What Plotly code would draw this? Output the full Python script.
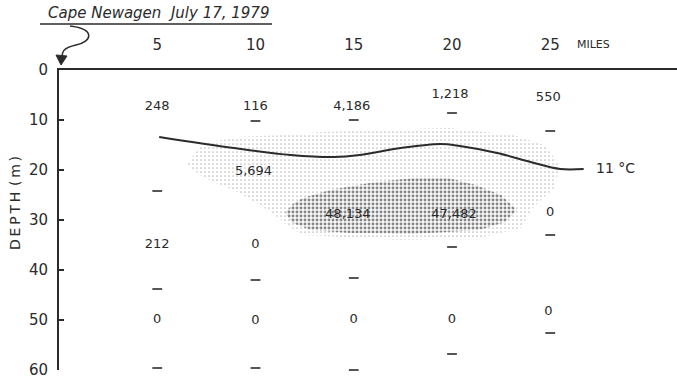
import plotly.graph_objects as go

# ---------------- data (miles from Cape Newagen, depth in m) ----------------
station_miles = [5, 10, 15, 20, 25]

label_miles = [5, 10, 14.9, 19.9, 24.9, 9.9, 14.7, 20.1, 25, 5, 10, 5, 10, 15, 20, 24.9]
label_depths = [7.4, 7.4, 7.4, 5.0, 5.6, 20.4, 29.0, 29.0, 28.6, 35.0, 35.0, 50.0, 50.2, 50.0, 50.0, 48.4]
label_texts = ["248", "116", "4,186", "1,218", "550", "5,694", "48,134", "47,482", "0",
               "212", "0", "0", "0", "0", "0", "0"]

dash_miles = [5, 5, 5, 10, 10, 10, 15, 15, 15, 20, 20, 20, 25, 25, 25]
dash_depths = [24.2, 43.8, 59.6, 10.2, 42.0, 59.6, 10.0, 41.6, 60.0, 8.6, 35.4, 56.8, 12.2, 33.0, 52.6]

iso_miles = [5.1, 8.9, 11.8, 14.0, 15.3, 17.4, 19.4, 20.4, 22.3, 24.0, 25.5, 26.7]
iso_depths = [13.4, 15.6, 17.0, 17.4, 17.0, 15.6, 14.8, 15.2, 16.6, 18.4, 19.8, 19.8]

light_miles = [6.5, 7.3, 9.2, 11.3, 13.3, 16.4, 19.8, 23.1, 24.7, 25.5, 25.2, 24.1, 23.5,
               21.4, 17.4, 12.4, 11.6, 10.8, 9.1, 7.4, 6.5]
light_depths = [19.0, 14.6, 13.4, 13.0, 12.4, 12.0, 11.6, 13.0, 15.0, 19.0, 23.6, 27.6, 31.6,
                33.6, 34.0, 33.0, 31.0, 28.4, 24.4, 21.6, 19.0]

dense_miles = [11.5, 11.9, 12.4, 13.8, 15.8, 18.0, 19.8, 21.2, 22.5, 23.3, 22.7, 21.4, 18.0,
               14.8, 12.8, 11.9, 11.5]
dense_depths = [28.6, 26.8, 25.6, 24.0, 22.6, 21.6, 21.6, 23.0, 25.0, 28.0, 30.4, 32.0, 32.8,
                32.6, 32.0, 30.6, 28.6]

x_ticks = [5, 10, 15, 20, 25]
y_ticks = [0, 10, 20, 30, 40, 50, 60]

INK = "#2b2b2b"
FONT = "DejaVu Sans"

W, H = 677, 379
ML, MR, MT, MB = 59, 0, 70, 9
PW, PH = W - ML - MR, H - MT - MB


def px(x, y):
    """pixel -> paper coordinates for decorative shapes"""
    return (x - ML) / PW, (H - MB - y) / PH


fig = go.Figure()

fig.add_trace(go.Scatter(
    x=light_miles, y=light_depths, mode="lines", fill="toself",
    line=dict(width=0, color="rgba(0,0,0,0)"), fillcolor="rgba(0,0,0,0)",
    fillpattern=dict(shape=".", size=4, solidity=0.14, fgcolor="#777777", bgcolor="white"),
    hoverinfo="skip", showlegend=False))

fig.add_trace(go.Scatter(
    x=dense_miles, y=dense_depths, mode="lines", fill="toself",
    line=dict(width=0, color="rgba(0,0,0,0)"), fillcolor="rgba(0,0,0,0)",
    fillpattern=dict(shape=".", size=4, solidity=0.42, fgcolor="#111111", bgcolor="#fafafa"),
    hoverinfo="skip", showlegend=False))

fig.add_trace(go.Scatter(
    x=iso_miles, y=iso_depths, mode="lines", line=dict(color=INK, width=2, shape="spline"),
    hoverinfo="skip", showlegend=False))

fig.add_trace(go.Scatter(
    x=dash_miles, y=dash_depths, mode="markers", cliponaxis=False,
    marker=dict(symbol="line-ew", size=7, line=dict(width=1.6, color=INK)),
    hoverinfo="skip", showlegend=False))

fig.add_trace(go.Scatter(
    x=label_miles, y=label_depths, mode="text", text=label_texts,
    textfont=dict(family=FONT, size=13, color=INK), textposition="middle center",
    hoverinfo="skip", showlegend=False))

# isotherm label
fig.add_annotation(x=iso_miles[-1], y=iso_depths[-1], xref="x", yref="y", text="11 °C",
                   showarrow=False, xanchor="left", yanchor="middle", xshift=10, yshift=1,
                   font=dict(family=FONT, size=14, color=INK))

# MILES label after 25
ux, uy = px(593, 44)
fig.add_annotation(x=ux, y=uy, xref="paper", yref="paper", text="MILES", showarrow=False,
                   xanchor="center", yanchor="middle",
                   font=dict(family=FONT, size=11, color=INK))

# title
tx, ty = px(158, 13)
fig.add_annotation(x=tx, y=ty, xref="paper", yref="paper",
                   text="<i>Cape Newagen  July 17, 1979</i>", showarrow=False,
                   xanchor="center", yanchor="middle",
                   font=dict(family=FONT, size=15, color=INK))
x0, y0 = px(40, 24)
x1, _ = px(272, 24)
fig.add_shape(type="line", xref="paper", yref="paper", x0=x0, y0=y0, x1=x1, y1=y0,
              line=dict(color=INK, width=1.5))


def path(points, cmds):
    out = []
    i = 0
    for c in cmds:
        if c in "ML":
            a, b = px(*points[i]); out.append(f"{c} {a:.5f},{b:.5f}"); i += 1
        elif c == "C":
            seg = []
            for _ in range(3):
                a, b = px(*points[i]); seg.append(f"{a:.5f},{b:.5f}"); i += 1
            out.append("C " + " ".join(seg))
        elif c == "Z":
            out.append("Z")
    return " ".join(out)


squiggle = path([(70, 26), (96, 29), (92, 42), (76, 45), (62, 48), (62, 53), (62, 57)],
                "MCC")
fig.add_shape(type="path", xref="paper", yref="paper", path=squiggle,
              line=dict(color=INK, width=1.5))
head = path([(61, 65), (56, 55), (67, 56)], "MLLZ")
fig.add_shape(type="path", xref="paper", yref="paper", path=head,
              line=dict(color=INK, width=1), fillcolor=INK)

# y-axis title (letter-spaced like the original lettering)
ax_, ay_ = px(15, 203)
fig.add_annotation(x=ax_, y=ay_, xref="paper", yref="paper",
                   text="\u2009".join("DEPTH") + "\u2009\u2009(\u2009m\u2009)",
                   showarrow=False, textangle=-90, xanchor="center", yanchor="middle",
                   font=dict(family=FONT, size=14, color=INK))

fig.update_layout(
    width=W, height=H, margin=dict(l=ML, r=MR, t=MT, b=MB),
    paper_bgcolor="white", plot_bgcolor="white",
    xaxis=dict(range=[0, PW / 19.65], side="top", showgrid=False, zeroline=False,
               showline=True, linecolor=INK, linewidth=2, tickvals=x_ticks,
               ticktext=[str(v) for v in x_ticks], ticks="", ticklabelstandoff=12,
               tickfont=dict(family=FONT, size=15, color=INK)),
    yaxis=dict(range=[60, 0], showgrid=False, zeroline=False, showline=True,
               linecolor=INK, linewidth=2, tickvals=y_ticks, ticks="inside", ticklen=5,
               tickwidth=2, tickcolor=INK, ticklabelstandoff=6, ticklabeloverflow="allow",
               tickfont=dict(family=FONT, size=15, color=INK)),
)

fig.write_html("out.html", config={"displayModeBar": False},
               post_script="document.body.style.margin='0px';")
